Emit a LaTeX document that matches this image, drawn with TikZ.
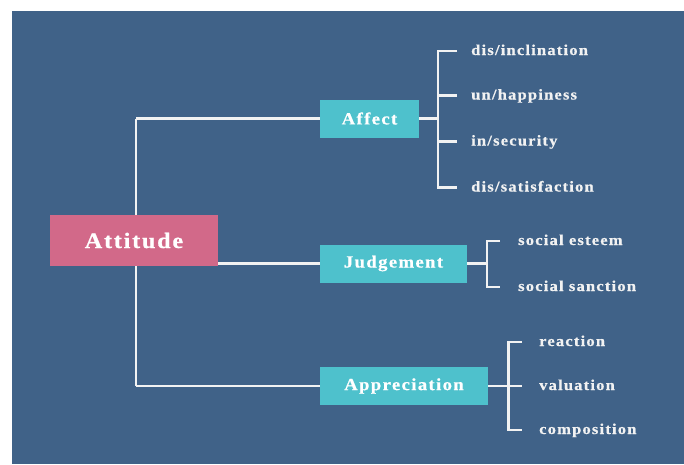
\documentclass[tikz,border=0pt]{standalone}
\usepackage{fontspec}
\setmainfont{Liberation Serif}[FakeStretch=1.1,LetterSpace=8,FakeBold=0.6]
\usetikzlibrary{backgrounds}
\definecolor{bgblue}{RGB}{64,98,136}
\definecolor{rootpink}{RGB}{210,105,137}
\definecolor{boxteal}{RGB}{78,193,204}
\definecolor{linew}{RGB}{242,242,242}
\begin{document}
\begin{tikzpicture}[x=1pt,y=-1pt,
  rootbox/.style={fill=rootpink, text=white, minimum width=168pt, minimum height=51pt, inner sep=0pt, font=\bfseries\fontsize{22}{26}\selectfont},
  midbox/.style={fill=boxteal, text=white, minimum height=38pt, inner sep=0pt, font=\bfseries\fontsize{17}{20}\selectfont},
  leaf/.style={anchor=west, text=linew, inner sep=0pt, text height=11pt, text depth=3pt, font=\bfseries\fontsize{15}{18}\selectfont},
  link/.style={draw=linew, line width=2.4pt}]
\useasboundingbox (0,0) rectangle (684,464);
% nodes
\node[rootbox] (att) at (134,240.5) {Attitude};
\node[midbox, minimum width=99pt] (aff) at (369.5,118.5) {Affect};
\node[midbox, minimum width=147pt] (jud) at (393.5,263.5) {Judgement};
\node[midbox, minimum width=168pt] (app) at (404,386) {Appreciation};
\node[leaf] (a1) at (471,51) {dis/inclination};
\node[leaf] (a2) at (471,95.5) {un/happiness};
\node[leaf] (a3) at (471,141.5) {in/security};
\node[leaf] (a4) at (471,187.5) {dis/satisfaction};
\node[leaf] (j1) at (518,241) {social esteem};
\node[leaf] (j2) at (518,287) {social sanction};
\node[leaf] (p1) at (539,342) {reaction};
\node[leaf] (p2) at (539,386) {valuation};
\node[leaf] (p3) at (539,430) {composition};
\coordinate (ta) at (136,118.5);
\coordinate (tc) at (136,386);
\coordinate (ab) at (438,118.5);
\coordinate (jb) at (487,263.5);
\coordinate (pb) at (508.5,386);
\begin{scope}[on background layer]
\fill[white] (0,0) rectangle (684,464);
\fill[bgblue] (12,11) rectangle (684,464);
% trunk
\draw[link] (ta) -- (tc);
\draw[link] (ta) -- (aff.west);
\draw[link] (tc) -- (app.west);
\draw[link] (att.east |- jud.west) -- (jud.west);
% affect bracket
\draw[link] (aff.east) -- (ab);
\draw[link] ([xshift=-14pt]a1.west) -| (ab |- a4.west) -- ([xshift=-14pt]a4.west);
\draw[link] (ab |- a2.west) -- ([xshift=-14pt]a2.west);
\draw[link] (ab |- a3.west) -- ([xshift=-14pt]a3.west);
% judgement bracket
\draw[link] (jud.east) -- (jb);
\draw[link] ([xshift=-18pt]j1.west) -| (jb |- j2.west) -- ([xshift=-18pt]j2.west);
% appreciation bracket
\draw[link] (app.east) -- ([xshift=-17pt]p2.west);
\draw[link] ([xshift=-17pt]p1.west) -| (pb |- p3.west) -- ([xshift=-17pt]p3.west);
\end{scope}
\end{tikzpicture}
\end{document}
